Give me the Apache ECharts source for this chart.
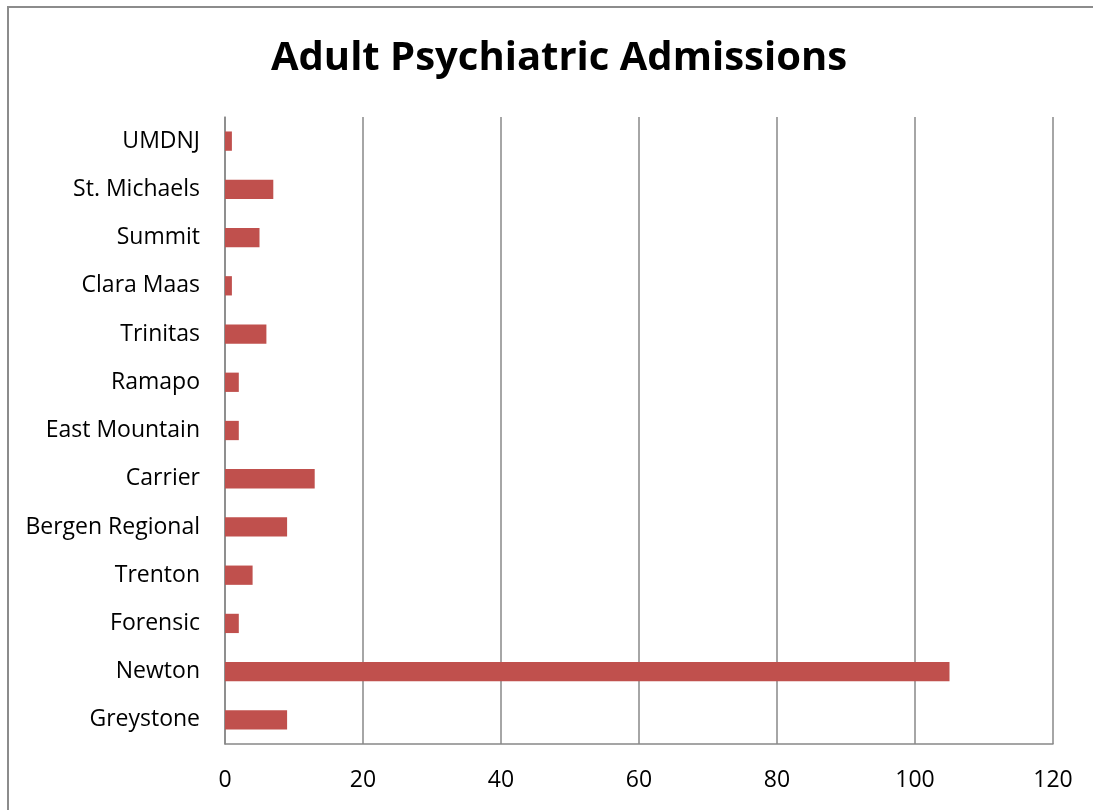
<!DOCTYPE html>
<html>
<head>
<meta charset="utf-8">
<script src="https://cdn.jsdelivr.net/npm/echarts@6/dist/echarts.min.js"></script>
<style>
  html, body { margin: 0; padding: 0; background: #fff; overflow: hidden; }
  #frame { position: absolute; left: 7px; top: 6px; width: 1200px; height: 900px;
           border-left: 2px solid #8c8c8c; border-top: 2px solid #8c8c8c; box-sizing: border-box; }
  #chart { position: absolute; left: 0; top: 0; width: 1093px; height: 810px; }
</style>
</head>
<body>
<div id="frame"></div>
<div id="chart"></div>
<script>
// hospitals, bottom to top as drawn
const hospitals = ['Greystone', 'Newton', 'Forensic', 'Trenton', 'Bergen Regional', 'Carrier',
  'East Mountain', 'Ramapo', 'Trinitas', 'Clara Maas', 'Summit', 'St. Michaels', 'UMDNJ']
const admissions = [9, 105, 2, 4, 9, 13, 2, 2, 6, 1, 5, 7, 1]

const chart = echarts.init(document.getElementById('chart'))
const font = '"Open Sans", "Liberation Sans", sans-serif'

chart.setOption({
  animation: false,
  title: {
    text: 'Adult Psychiatric Admissions',
    left: 554,
    textAlign: 'center',
    top: 34,
    textStyle: { fontFamily: font, fontSize: 40, fontWeight: 'bold', color: '#000' }
  },
  grid: { left: 225, right: 40, top: 117, bottom: 66 },
  xAxis: {
    type: 'value',
    min: 0,
    max: 120,
    interval: 20,
    axisLine: { show: true, lineStyle: { color: '#888', width: 1.5 } },
    axisTick: { show: false },
    axisLabel: { margin: 25, fontFamily: font, fontSize: 23, color: '#000' },
    splitLine: { show: true, lineStyle: { color: '#888', width: 1.5 } }
  },
  yAxis: {
    type: 'category',
    data: hospitals,
    axisLine: { show: true, lineStyle: { color: '#888', width: 1.5 } },
    axisTick: { show: false },
    axisLabel: { margin: 25, fontFamily: font, fontSize: 23, color: '#000' }
  },
  series: [{
    type: 'bar',
    data: admissions,
    barCategoryGap: '60%',
    itemStyle: { color: '#c0504d' }
  }]
})
</script>
</body>
</html>
